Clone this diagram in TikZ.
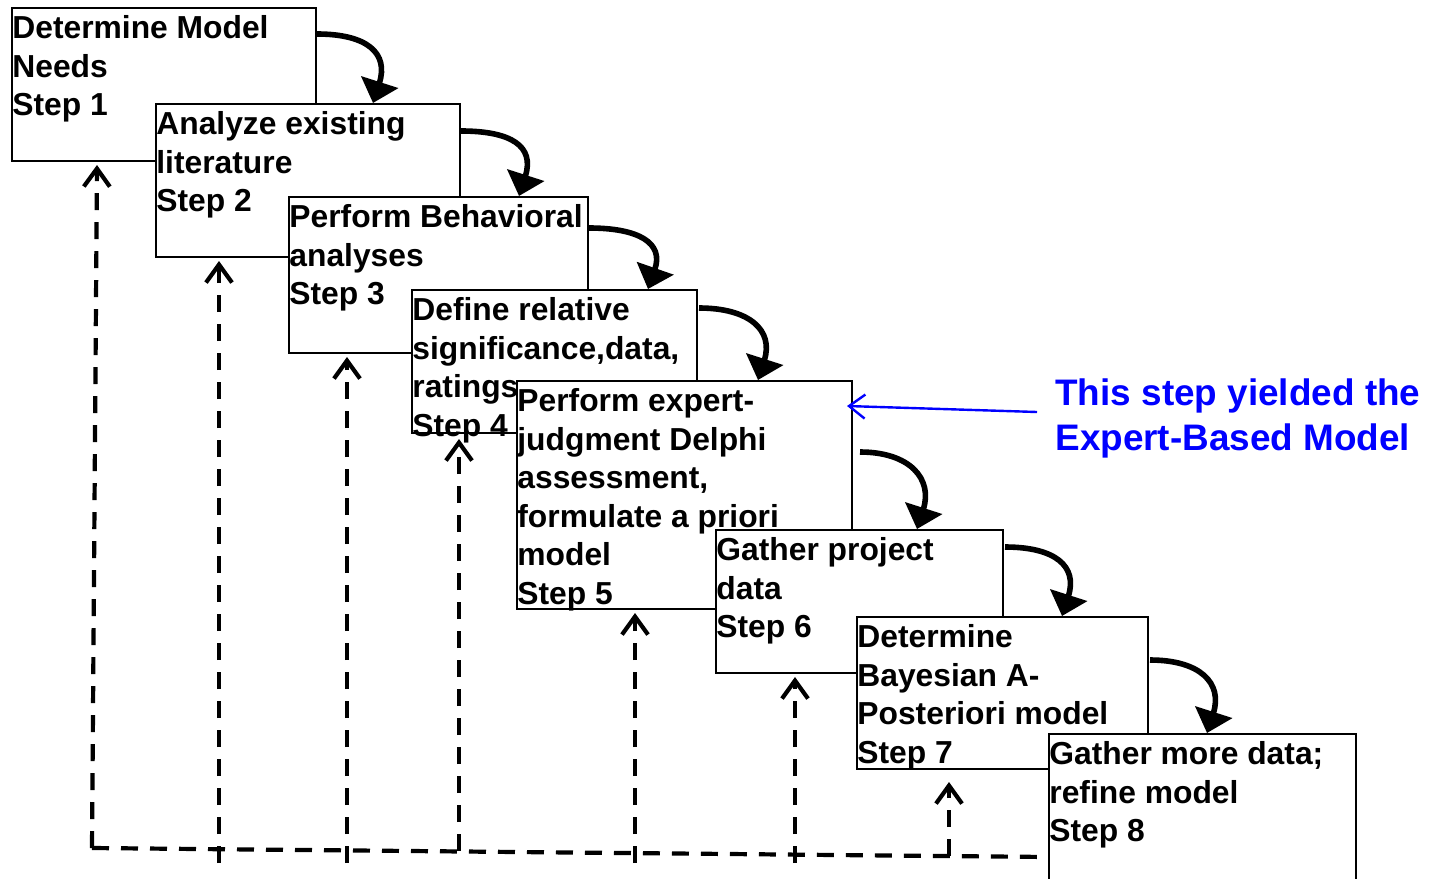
\documentclass[tikz,border=0pt]{standalone}
\usepackage{fontspec}
\setmainfont{Liberation Sans}
\usetikzlibrary{arrows.meta,calc}
\definecolor{noteblue}{RGB}{0,0,255}
\begin{document}
\begin{tikzpicture}[x=0.5pt,y=-0.5pt,
  stepbox/.style={draw, line width=1pt, fill=white, inner sep=0pt, anchor=north west},
  steptext/.style={anchor=north west, inner sep=0pt, align=left,
    font=\fontsize{15.9}{19.25}\selectfont\bfseries},
  flow/.style={line width=2.8pt, -{Triangle[width=19pt,length=11pt]}},
  fline/.style={line width=2.1pt, dash pattern=on 8.5pt off 6pt},
  fback/.style={fline, -{Straight Barb[width=13pt,length=9pt]}},
  note/.style={anchor=north west, inner sep=0pt, align=left, text=noteblue,
    font=\fontsize{18.45}{22.75}\selectfont\bfseries},
  notearrow/.style={draw=noteblue, line width=1.2pt, -{Straight Barb[width=12pt,length=8pt]}}]
\useasboundingbox (0,0) rectangle (1433,878);
\newcommand{\firstline}{\rule{0pt}{12.6pt}}
% boxes and their texts, drawn in order
\node[stepbox, minimum width=152pt, minimum height=76.5pt] (b1) at (11,7) {};
\node[steptext] (t1) at (12,13) {\firstline Determine Model\\Needs\\Step 1};
\node[stepbox, minimum width=152pt, minimum height=76.5pt] (b2) at (155,103) {};
\node[steptext] (t2) at (156,109) {\firstline Analyze existing\\literature\\Step 2};
\node[stepbox, minimum width=149.5pt, minimum height=78pt] (b3) at (288,196) {};
\node[steptext] (t3) at (289,202) {\firstline Perform Behavioral\\analyses\\Step 3};
\node[stepbox, minimum width=142.5pt, minimum height=71.5pt] (b4) at (411,289) {};
\node[steptext] (t4) at (412,295) {\firstline Define relative\\significance,data,\\ratings\\Step 4};
\node[stepbox, minimum width=167.5pt, minimum height=114pt] (b5) at (516,380) {};
\node[steptext] (t5) at (517,386) {\firstline Perform expert-\\judgment Delphi\\assessment,\\formulate a priori\\model\\Step 5};
\node[stepbox, minimum width=143.5pt, minimum height=71.5pt] (b6) at (715,529) {};
\node[steptext] (t6) at (716,535) {\firstline Gather project\\data\\Step 6};
\node[stepbox, minimum width=145.5pt, minimum height=76pt] (b7) at (856,616) {};
\node[steptext] (t7) at (857,622) {\firstline Determine\\Bayesian A-\\Posteriori model\\Step 7};
\node[stepbox, minimum width=153.5pt, minimum height=80pt] (b8) at (1048,733) {};
\node[steptext] (t8) at (1049,739) {\firstline Gather more data;\\refine model\\Step 8};
% curved flow arrows
\draw[flow] ($(b1.north east)+(0,27)$) .. controls +(50,0) and +(16,-50) .. ($(b2.north west)+(218,0)$);
\draw[flow] ($(b2.north east)+(0,28)$) .. controls +(50,0) and +(16,-50) .. ($(b3.north west)+(231,0)$);
\draw[flow] ($(b3.north east)+(0,32)$) .. controls +(50,0) and +(16,-46) .. ($(b4.north west)+(237,0)$);
\draw[flow] ($(b4.north east)+(1,19)$) .. controls +(50,0) and +(16,-50) .. ($(b5.north west)+(242,0)$);
\draw[flow] ($(b5.north east)+(7,72)$) .. controls +(50,0) and +(16,-50) .. ($(b6.north west)+(202,0)$);
\draw[flow] ($(b6.north east)+(1,18)$) .. controls +(50,0) and +(16,-50) .. ($(b7.north west)+(206,0)$);
\draw[flow] ($(b7.north east)+(1,44)$) .. controls +(50,0) and +(16,-50) .. ($(b8.north west)+(159,0)$);
% dashed feedback lines
\coordinate (c0) at (92,848);
\coordinate (v2) at (219,863);
\coordinate (v3) at (347,863);
\coordinate (v4) at (459,851);
\coordinate (v5) at (635,863);
\coordinate (v6) at (795,863);
\coordinate (v7) at (949,856);
\draw[fline] (c0) -- ($(b8.north west)+(0,124)$);
\draw[fback] (c0) -- ($(b1.south west)+(86,3)$);
\draw[fback] (v2) -- ($(b2.south west)+(64,3)$);
\draw[fback] (v3) -- ($(b3.south west)+(59,3)$);
\draw[fback] (v4) -- ($(b4.south west)+(48,5)$);
\draw[fback] (v5) -- ($(b5.south west)+(119,3)$);
\draw[fback] (v6) -- ($(b6.south west)+(80,3)$);
\draw[fback] (v7) -- ($(b7.south west)+(93,12)$);
% annotation
\node[note] (n) at (1055,375) {\rule{0pt}{14.8pt}This step yielded the\\Expert-Based Model};
\draw[notearrow] ($(n.north west)+(-18,37)$) -- ($(b5.north east)+(-6,26)$);
\end{tikzpicture}
\end{document}
